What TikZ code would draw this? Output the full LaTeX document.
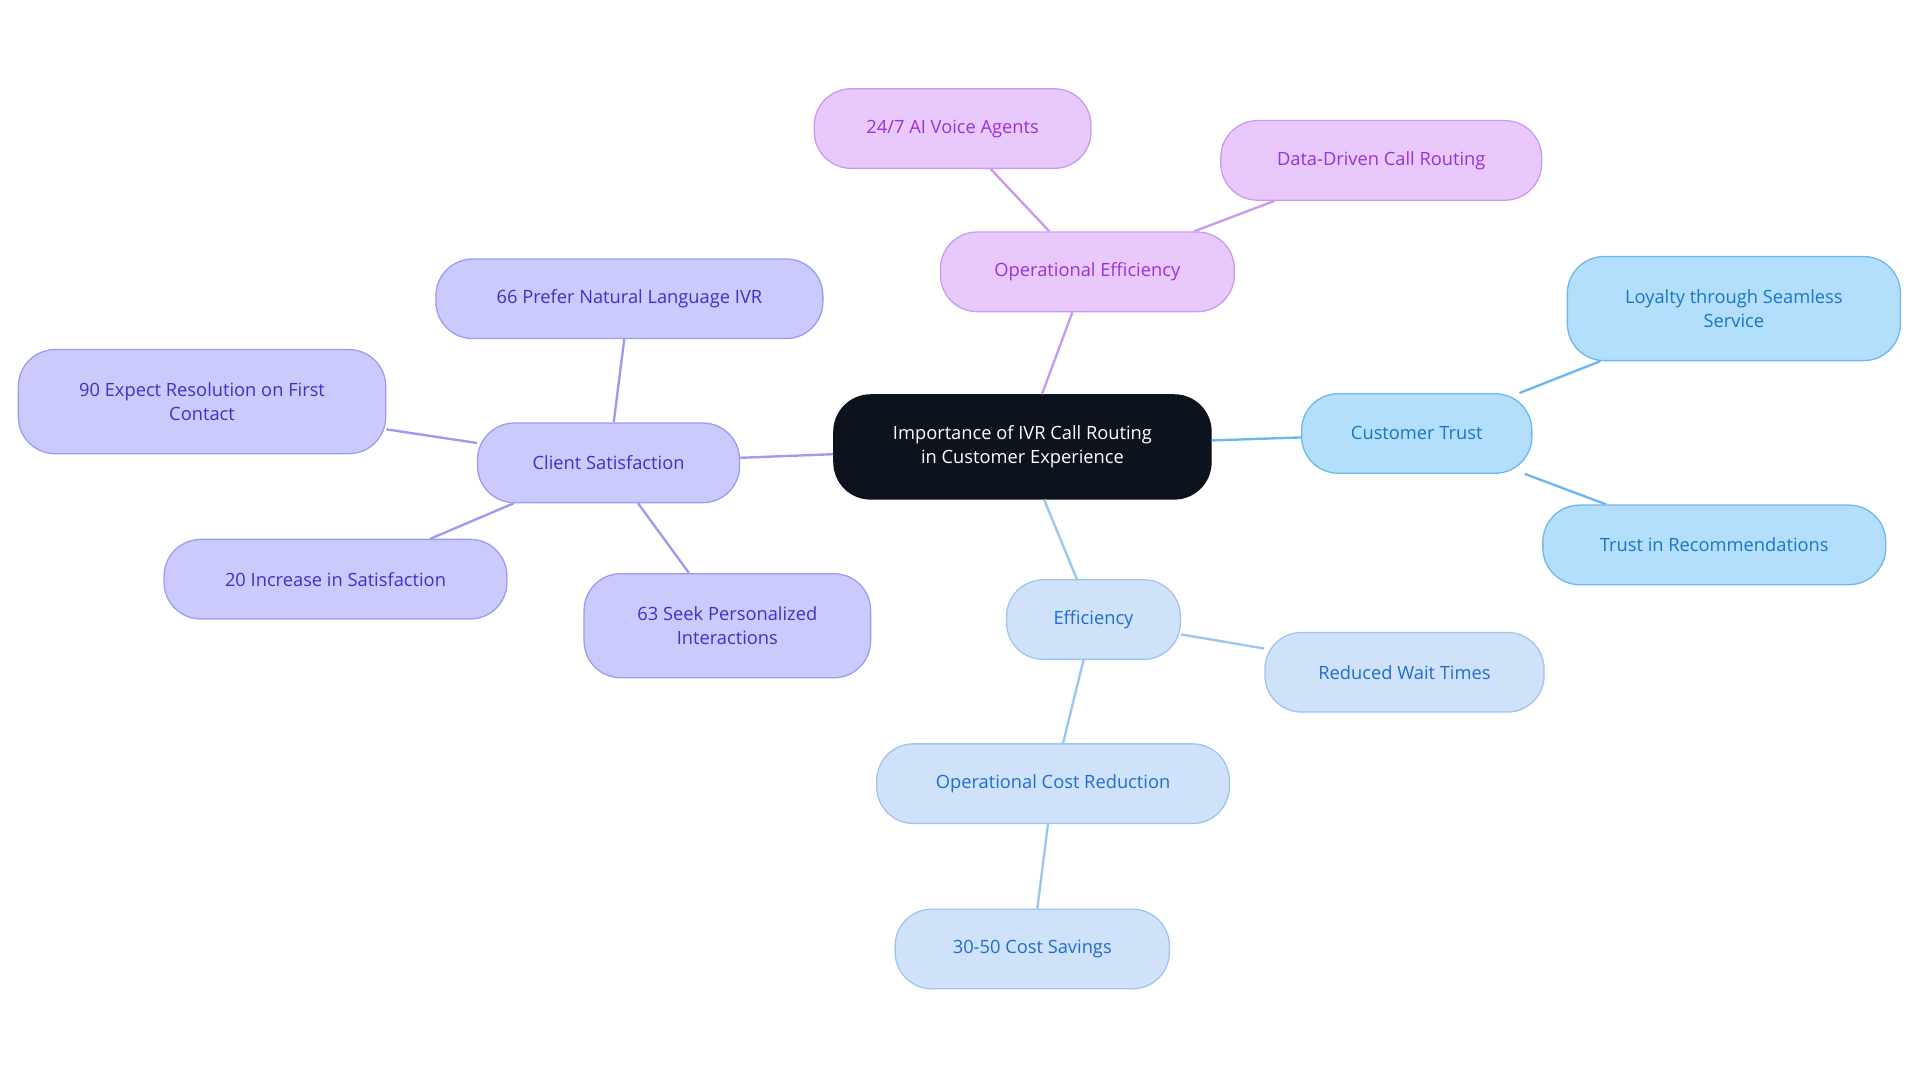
\documentclass[tikz,border=0pt]{standalone}
\usepackage{fontspec}
\setmainfont{Open Sans}
\definecolor{rootfill}{HTML}{0D131C}
\definecolor{purfill}{HTML}{E9C9FB}\definecolor{purline}{HTML}{C99AF0}\definecolor{purtext}{HTML}{9B30D9}
\definecolor{skyfill}{HTML}{B3DFFC}\definecolor{skyline}{HTML}{6CB8EC}\definecolor{skytext}{HTML}{1A75C4}
\definecolor{blufill}{HTML}{CFE2FA}\definecolor{bluline}{HTML}{9EC4F0}\definecolor{blutext}{HTML}{1F6DD0}
\definecolor{viofill}{HTML}{CACBFC}\definecolor{violine}{HTML}{9B9CF0}\definecolor{viotext}{HTML}{3A33C8}
\tikzset{
  box/.style={rounded corners=0.6cm, align=center, inner sep=0pt, font=\fontsize{8.5}{11}\selectfont, line width=0.6pt},
  root/.style={box, fill=rootfill, text=white, draw=rootfill},
  pur/.style={box, fill=purfill, draw=purline, text=purtext},
  sky/.style={box, fill=skyfill, draw=skyline, text=skytext},
  blu/.style={box, fill=blufill, draw=bluline, text=blutext},
  vio/.style={box, fill=viofill, draw=violine, text=viotext},
  sz/.style 2 args={minimum width=#1*0.02cm, minimum height=#2*0.02cm}
}
\begin{document}
\begin{tikzpicture}[x=0.02cm, y=-0.02cm, line width=1.1pt]
  \useasboundingbox (0,0) rectangle (1568,884);
  % centre
  \node[root, sz={308}{85}] (ivr) at (835,365) {Importance of IVR Call Routing\\in Customer Experience};
  % operational efficiency
  \node[pur, sz={240}{65}] (opeff) at (888,222) {Operational Efficiency};
  \node[pur, sz={226}{65}] (agents) at (778,105) {24/7 AI Voice Agents};
  \node[pur, sz={262}{65}] (datarouting) at (1128,131) {Data-Driven Call Routing};
  % customer trust
  \node[sky, sz={188}{65}] (trust) at (1157,354) {Customer Trust};
  \node[sky, sz={272}{85}] (loyalty) at (1416,252) {Loyalty through Seamless\\Service};
  \node[sky, sz={280}{65}] (recs) at (1400,445) {Trust in Recommendations};
  % efficiency
  \node[blu, sz={142}{65}] (eff) at (893,506) {Efficiency};
  \node[blu, sz={228}{65}] (wait) at (1147,549) {Reduced Wait Times};
  \node[blu, sz={288}{65}] (costred) at (860,640) {Operational Cost Reduction};
  \node[blu, sz={224}{65}] (savings) at (843,775) {30-50 Cost Savings};
  % client satisfaction
  \node[vio, sz={214}{65}] (csat) at (497,378) {Client Satisfaction};
  \node[vio, sz={316}{65}] (natlang) at (514,244) {66 Prefer Natural Language IVR};
  \node[vio, sz={300}{85}] (firstcontact) at (165,328) {90 Expect Resolution on First\\Contact};
  \node[vio, sz={280}{65}] (increase) at (274,473) {20 Increase in Satisfaction};
  \node[vio, sz={234}{85}] (personal) at (594,511) {63 Seek Personalized\\Interactions};
  % connectors
  \draw[purline] (ivr) -- (opeff) (opeff) -- (agents) (opeff) -- (datarouting);
  \draw[skyline] (ivr) -- (trust) (trust) -- (loyalty) (trust) -- (recs);
  \draw[bluline] (ivr) -- (eff) (eff) -- (wait) (eff) -- (costred) (costred) -- (savings);
  \draw[violine] (ivr) -- (csat) (csat) -- (natlang) (csat) -- (firstcontact)
    (csat) -- (increase) (csat) -- (personal);
\end{tikzpicture}
\end{document}
